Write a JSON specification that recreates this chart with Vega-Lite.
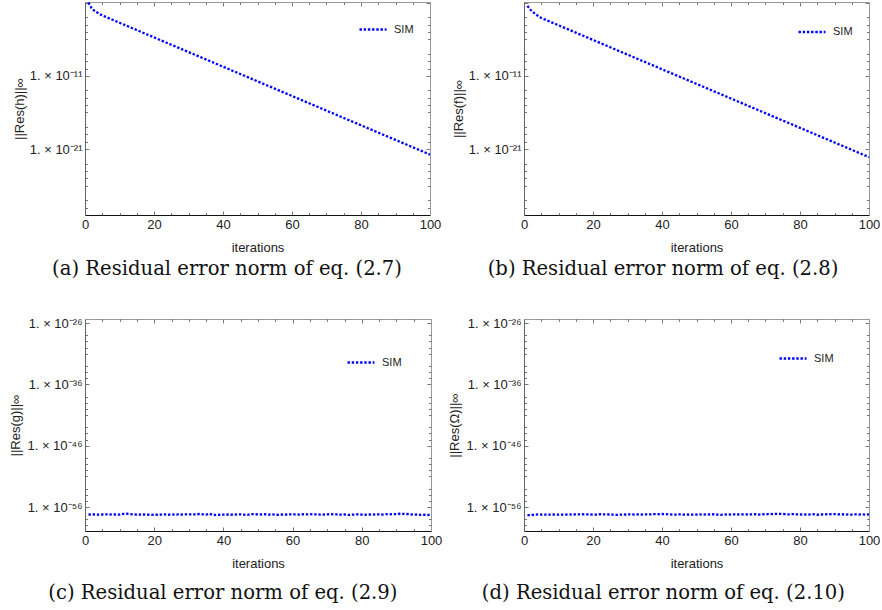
{
"$schema": "https://vega.github.io/schema/vega-lite/v6.json",
"padding": {"left": 9, "top": -1, "right": 0, "bottom": 0},
"background": "white",
"datasets": {
"a": [{"i":1,"r":1.0e-1},{"i":2,"r":1.41e-2},{"i":3,"r":6.31e-3},{"i":4,"r":3.16e-3},{"i":5,"r":1.778e-3},{"i":6,"r":1.122e-3},{"i":7,"r":7.079e-4},{"i":8,"r":4.467e-4},{"i":9,"r":2.818e-4},{"i":10,"r":1.778e-4},
{"i":11,"r":1.122e-4},{"i":12,"r":7.079e-5},{"i":13,"r":4.467e-5},{"i":14,"r":2.818e-5},{"i":15,"r":1.778e-5},{"i":16,"r":1.122e-5},{"i":17,"r":7.079e-6},{"i":18,"r":4.467e-6},{"i":19,"r":2.818e-6},{"i":20,"r":1.778e-6},
{"i":21,"r":1.122e-6},{"i":22,"r":7.079e-7},{"i":23,"r":4.467e-7},{"i":24,"r":2.818e-7},{"i":25,"r":1.778e-7},{"i":26,"r":1.122e-7},{"i":27,"r":7.079e-8},{"i":28,"r":4.467e-8},{"i":29,"r":2.818e-8},{"i":30,"r":1.778e-8},
{"i":31,"r":1.122e-8},{"i":32,"r":7.079e-9},{"i":33,"r":4.467e-9},{"i":34,"r":2.818e-9},{"i":35,"r":1.778e-9},{"i":36,"r":1.122e-9},{"i":37,"r":7.079e-10},{"i":38,"r":4.467e-10},{"i":39,"r":2.818e-10},{"i":40,"r":1.778e-10},
{"i":41,"r":1.122e-10},{"i":42,"r":7.079e-11},{"i":43,"r":4.467e-11},{"i":44,"r":2.818e-11},{"i":45,"r":1.778e-11},{"i":46,"r":1.122e-11},{"i":47,"r":7.079e-12},{"i":48,"r":4.467e-12},{"i":49,"r":2.818e-12},{"i":50,"r":1.778e-12},
{"i":51,"r":1.122e-12},{"i":52,"r":7.079e-13},{"i":53,"r":4.467e-13},{"i":54,"r":2.818e-13},{"i":55,"r":1.778e-13},{"i":56,"r":1.122e-13},{"i":57,"r":7.079e-14},{"i":58,"r":4.467e-14},{"i":59,"r":2.818e-14},{"i":60,"r":1.778e-14},
{"i":61,"r":1.122e-14},{"i":62,"r":7.079e-15},{"i":63,"r":4.467e-15},{"i":64,"r":2.818e-15},{"i":65,"r":1.778e-15},{"i":66,"r":1.122e-15},{"i":67,"r":7.079e-16},{"i":68,"r":4.467e-16},{"i":69,"r":2.818e-16},{"i":70,"r":1.778e-16},
{"i":71,"r":1.122e-16},{"i":72,"r":7.079e-17},{"i":73,"r":4.467e-17},{"i":74,"r":2.818e-17},{"i":75,"r":1.778e-17},{"i":76,"r":1.122e-17},{"i":77,"r":7.079e-18},{"i":78,"r":4.467e-18},{"i":79,"r":2.818e-18},{"i":80,"r":1.778e-18},
{"i":81,"r":1.122e-18},{"i":82,"r":7.079e-19},{"i":83,"r":4.467e-19},{"i":84,"r":2.818e-19},{"i":85,"r":1.778e-19},{"i":86,"r":1.122e-19},{"i":87,"r":7.079e-20},{"i":88,"r":4.467e-20},{"i":89,"r":2.818e-20},{"i":90,"r":1.778e-20},
{"i":91,"r":1.122e-20},{"i":92,"r":7.079e-21},{"i":93,"r":4.467e-21},{"i":94,"r":2.818e-21},{"i":95,"r":1.778e-21},{"i":96,"r":1.122e-21},{"i":97,"r":7.079e-22},{"i":98,"r":4.467e-22},{"i":99,"r":2.818e-22},{"i":100,"r":1.778e-22}],
"b": [{"i":1,"r":3.548e-2},{"i":2,"r":8.913e-3},{"i":3,"r":3.548e-3},{"i":4,"r":1.585e-3},{"i":5,"r":7.943e-4},{"i":6,"r":5.012e-4},{"i":7,"r":3.162e-4},{"i":8,"r":1.995e-4},{"i":9,"r":1.259e-4},{"i":10,"r":7.943e-5},
{"i":11,"r":5.012e-5},{"i":12,"r":3.162e-5},{"i":13,"r":1.995e-5},{"i":14,"r":1.259e-5},{"i":15,"r":7.943e-6},{"i":16,"r":5.012e-6},{"i":17,"r":3.162e-6},{"i":18,"r":1.995e-6},{"i":19,"r":1.259e-6},{"i":20,"r":7.943e-7},
{"i":21,"r":5.012e-7},{"i":22,"r":3.162e-7},{"i":23,"r":1.995e-7},{"i":24,"r":1.259e-7},{"i":25,"r":7.943e-8},{"i":26,"r":5.012e-8},{"i":27,"r":3.162e-8},{"i":28,"r":1.995e-8},{"i":29,"r":1.259e-8},{"i":30,"r":7.943e-9},
{"i":31,"r":5.012e-9},{"i":32,"r":3.162e-9},{"i":33,"r":1.995e-9},{"i":34,"r":1.259e-9},{"i":35,"r":7.943e-10},{"i":36,"r":5.012e-10},{"i":37,"r":3.162e-10},{"i":38,"r":1.995e-10},{"i":39,"r":1.259e-10},{"i":40,"r":7.943e-11},
{"i":41,"r":5.012e-11},{"i":42,"r":3.162e-11},{"i":43,"r":1.995e-11},{"i":44,"r":1.259e-11},{"i":45,"r":7.943e-12},{"i":46,"r":5.012e-12},{"i":47,"r":3.162e-12},{"i":48,"r":1.995e-12},{"i":49,"r":1.259e-12},{"i":50,"r":7.943e-13},
{"i":51,"r":5.012e-13},{"i":52,"r":3.162e-13},{"i":53,"r":1.995e-13},{"i":54,"r":1.259e-13},{"i":55,"r":7.943e-14},{"i":56,"r":5.012e-14},{"i":57,"r":3.162e-14},{"i":58,"r":1.995e-14},{"i":59,"r":1.259e-14},{"i":60,"r":7.943e-15},
{"i":61,"r":5.012e-15},{"i":62,"r":3.162e-15},{"i":63,"r":1.995e-15},{"i":64,"r":1.259e-15},{"i":65,"r":7.943e-16},{"i":66,"r":5.012e-16},{"i":67,"r":3.162e-16},{"i":68,"r":1.995e-16},{"i":69,"r":1.259e-16},{"i":70,"r":7.943e-17},
{"i":71,"r":5.012e-17},{"i":72,"r":3.162e-17},{"i":73,"r":1.995e-17},{"i":74,"r":1.259e-17},{"i":75,"r":7.943e-18},{"i":76,"r":5.012e-18},{"i":77,"r":3.162e-18},{"i":78,"r":1.995e-18},{"i":79,"r":1.259e-18},{"i":80,"r":7.943e-19},
{"i":81,"r":5.012e-19},{"i":82,"r":3.162e-19},{"i":83,"r":1.995e-19},{"i":84,"r":1.259e-19},{"i":85,"r":7.943e-20},{"i":86,"r":5.012e-20},{"i":87,"r":3.162e-20},{"i":88,"r":1.995e-20},{"i":89,"r":1.259e-20},{"i":90,"r":7.943e-21},
{"i":91,"r":5.012e-21},{"i":92,"r":3.162e-21},{"i":93,"r":1.995e-21},{"i":94,"r":1.259e-21},{"i":95,"r":7.943e-22},{"i":96,"r":5.012e-22},{"i":97,"r":3.162e-22},{"i":98,"r":1.995e-22},{"i":99,"r":1.259e-22},{"i":100,"r":7.943e-23}],
"c": [{"i":1,"r":6.0e-58},{"i":2,"r":6.3e-58},{"i":3,"r":6.1e-58},{"i":4,"r":5.8e-58},{"i":5,"r":6.2e-58},{"i":6,"r":6.5e-58},{"i":7,"r":6.0e-58},{"i":8,"r":6.4e-58},{"i":9,"r":6.1e-58},{"i":10,"r":5.7e-58},
{"i":11,"r":7.6e-58},{"i":12,"r":8.3e-58},{"i":13,"r":7.2e-58},{"i":14,"r":6.5e-58},{"i":15,"r":5.6e-58},{"i":16,"r":5.9e-58},{"i":17,"r":6.2e-58},{"i":18,"r":5.8e-58},{"i":19,"r":5.5e-58},{"i":20,"r":5.9e-58},
{"i":21,"r":5.6e-58},{"i":22,"r":6.0e-58},{"i":23,"r":6.3e-58},{"i":24,"r":5.4e-58},{"i":25,"r":6.6e-58},{"i":26,"r":5.9e-58},{"i":27,"r":6.4e-58},{"i":28,"r":6.1e-58},{"i":29,"r":6.5e-58},{"i":30,"r":6.2e-58},
{"i":31,"r":6.8e-58},{"i":32,"r":6.3e-58},{"i":33,"r":7.4e-58},{"i":34,"r":6.6e-58},{"i":35,"r":5.8e-58},{"i":36,"r":8.1e-58},{"i":37,"r":5.0e-58},{"i":38,"r":5.3e-58},{"i":39,"r":5.6e-58},{"i":40,"r":5.9e-58},
{"i":41,"r":6.1e-58},{"i":42,"r":5.5e-58},{"i":43,"r":6.4e-58},{"i":44,"r":6.0e-58},{"i":45,"r":6.6e-58},{"i":46,"r":5.7e-58},{"i":47,"r":5.2e-58},{"i":48,"r":7.2e-58},{"i":49,"r":6.9e-58},{"i":50,"r":6.6e-58},
{"i":51,"r":6.2e-58},{"i":52,"r":6.8e-58},{"i":53,"r":6.0e-58},{"i":54,"r":6.3e-58},{"i":55,"r":5.7e-58},{"i":56,"r":5.4e-58},{"i":57,"r":6.1e-58},{"i":58,"r":5.9e-58},{"i":59,"r":6.4e-58},{"i":60,"r":6.2e-58},
{"i":61,"r":6.6e-58},{"i":62,"r":6.0e-58},{"i":63,"r":6.8e-58},{"i":64,"r":6.4e-58},{"i":65,"r":6.9e-58},{"i":66,"r":6.3e-58},{"i":67,"r":6.7e-58},{"i":68,"r":5.8e-58},{"i":69,"r":6.1e-58},{"i":70,"r":6.5e-58},
{"i":71,"r":6.9e-58},{"i":72,"r":6.2e-58},{"i":73,"r":6.6e-58},{"i":74,"r":5.7e-58},{"i":75,"r":6.3e-58},{"i":76,"r":5.2e-58},{"i":77,"r":5.6e-58},{"i":78,"r":6.1e-58},{"i":79,"r":6.5e-58},{"i":80,"r":5.9e-58},
{"i":81,"r":5.6e-58},{"i":82,"r":6.2e-58},{"i":83,"r":5.8e-58},{"i":84,"r":6.3e-58},{"i":85,"r":6.5e-58},{"i":86,"r":6.0e-58},{"i":87,"r":7.0e-58},{"i":88,"r":6.4e-58},{"i":89,"r":7.3e-58},{"i":90,"r":6.8e-58},
{"i":91,"r":8.2e-58},{"i":92,"r":7.9e-58},{"i":93,"r":7.4e-58},{"i":94,"r":6.6e-58},{"i":95,"r":5.9e-58},{"i":96,"r":6.2e-58},{"i":97,"r":5.4e-58},{"i":98,"r":5.6e-58},{"i":99,"r":5.0e-58},{"i":100,"r":6.6e-58}],
"d": [{"i":1,"r":5.0e-58},{"i":2,"r":4.6e-58},{"i":3,"r":5.9e-58},{"i":4,"r":6.3e-58},{"i":5,"r":6.1e-58},{"i":6,"r":6.0e-58},{"i":7,"r":5.8e-58},{"i":8,"r":6.2e-58},{"i":9,"r":6.0e-58},{"i":10,"r":5.7e-58},
{"i":11,"r":6.1e-58},{"i":12,"r":5.9e-58},{"i":13,"r":6.3e-58},{"i":14,"r":6.0e-58},{"i":15,"r":6.5e-58},{"i":16,"r":6.4e-58},{"i":17,"r":6.8e-58},{"i":18,"r":6.6e-58},{"i":19,"r":6.2e-58},{"i":20,"r":5.9e-58},
{"i":21,"r":6.1e-58},{"i":22,"r":6.9e-58},{"i":23,"r":6.6e-58},{"i":24,"r":6.3e-58},{"i":25,"r":6.1e-58},{"i":26,"r":5.7e-58},{"i":27,"r":5.4e-58},{"i":28,"r":6.0e-58},{"i":29,"r":5.8e-58},{"i":30,"r":6.4e-58},
{"i":31,"r":6.7e-58},{"i":32,"r":6.0e-58},{"i":33,"r":6.3e-58},{"i":34,"r":6.1e-58},{"i":35,"r":6.5e-58},{"i":36,"r":6.2e-58},{"i":37,"r":6.6e-58},{"i":38,"r":7.2e-58},{"i":39,"r":6.8e-58},{"i":40,"r":7.4e-58},
{"i":41,"r":6.9e-58},{"i":42,"r":6.5e-58},{"i":43,"r":6.1e-58},{"i":44,"r":5.8e-58},{"i":45,"r":6.4e-58},{"i":46,"r":6.0e-58},{"i":47,"r":5.6e-58},{"i":48,"r":6.2e-58},{"i":49,"r":5.9e-58},{"i":50,"r":6.1e-58},
{"i":51,"r":6.3e-58},{"i":52,"r":5.8e-58},{"i":53,"r":6.5e-58},{"i":54,"r":6.2e-58},{"i":55,"r":6.7e-58},{"i":56,"r":6.0e-58},{"i":57,"r":5.5e-58},{"i":58,"r":5.9e-58},{"i":59,"r":6.3e-58},{"i":60,"r":6.1e-58},
{"i":61,"r":6.6e-58},{"i":62,"r":6.2e-58},{"i":63,"r":6.4e-58},{"i":64,"r":6.8e-58},{"i":65,"r":6.1e-58},{"i":66,"r":6.5e-58},{"i":67,"r":6.9e-58},{"i":68,"r":6.0e-58},{"i":69,"r":7.2e-58},{"i":70,"r":6.3e-58},
{"i":71,"r":7.8e-58},{"i":72,"r":7.3e-58},{"i":73,"r":7.6e-58},{"i":74,"r":7.9e-58},{"i":75,"r":7.5e-58},{"i":76,"r":6.8e-58},{"i":77,"r":6.4e-58},{"i":78,"r":7.3e-58},{"i":79,"r":6.6e-58},{"i":80,"r":6.2e-58},
{"i":81,"r":6.8e-58},{"i":82,"r":5.8e-58},{"i":83,"r":6.3e-58},{"i":84,"r":6.9e-58},{"i":85,"r":5.6e-58},{"i":86,"r":6.1e-58},{"i":87,"r":6.5e-58},{"i":88,"r":7.0e-58},{"i":89,"r":6.8e-58},{"i":90,"r":7.1e-58},
{"i":91,"r":6.6e-58},{"i":92,"r":6.9e-58},{"i":93,"r":6.0e-58},{"i":94,"r":6.3e-58},{"i":95,"r":5.9e-58},{"i":96,"r":6.4e-58},{"i":97,"r":6.1e-58},{"i":98,"r":6.3e-58},{"i":99,"r":6.0e-58},{"i":100,"r":6.4e-58}]
},
"columns": 2,
"spacing": {"row": 38, "column": 6},
"resolve": {"legend": {"stroke": "independent"}},
"concat": [
{
"width": 345, "height": 213,
"data": {"name": "a"},
"title": {"text": "(a) Residual error norm of eq. (2.7)", "orient": "bottom", "frame": "bounds", "anchor": "middle", "dx": 0, "offset": 6},
"resolve": {"axis": {"x": "independent", "y": "independent"}},
"layer": [
{"mark": {"type": "line", "strokeDash": [2.4, 1.8], "strokeWidth": 2.3, "clip": true},
 "encoding": {
  "x": {"field": "i", "type": "quantitative", "scale": {"domain": [0, 100], "nice": false, "zero": false}, "axis": {"orient": "bottom", "values": [0,20,40,60,80,100], "ticks": false, "title": "iterations", "domainColor": "#111"}},
  "y": {"field": "r", "type": "quantitative", "scale": {"type": "log", "domain": [1e-30, 0.12], "nice": false}, "axis": {"orient": "left", "values": [1e-11, 1e-21], "ticks": false, "title": "||Res(h)||∞", "titlePadding": 3, "domainColor": "#666", "labelExpr": "datum.value > 1e-16 ? '1. × 10⁻¹¹' : '1. × 10⁻²¹'"}},
  "stroke": {"datum": "SIM", "type": "nominal", "scale": {"range": ["#0000ff"]}, "legend": {"orient": "none", "legendX": 273, "legendY": 12.5}}
 }},
{"mark": {"type": "point", "opacity": 0},
 "encoding": {
  "x": {"field": "i", "type": "quantitative", "scale": {"domain": [0, 100], "nice": false, "zero": false}, "axis": {"orient": "bottom", "values": [0,20,40,60,80,100], "tickSize": -4, "labels": false, "domain": false, "title": null}},
  "y": {"field": "r", "type": "quantitative", "scale": {"type": "log", "domain": [1e-30, 0.12], "nice": false}, "axis": {"orient": "left", "values": [1e-1, 1e-11, 1e-21], "tickSize": -4, "labels": false, "domain": false, "title": null}}
 }},
{"mark": {"type": "point", "opacity": 0},
 "encoding": {
  "x": {"field": "i", "type": "quantitative", "scale": {"domain": [0, 100], "nice": false, "zero": false}, "axis": {"orient": "bottom", "values": [5,10,15,25,30,35,45,50,55,65,70,75,85,90,95], "tickSize": -2.5, "labels": false, "domain": false, "title": null}},
  "y": {"field": "r", "type": "quantitative", "scale": {"type": "log", "domain": [1e-30, 0.12], "nice": false}, "axis": {"orient": "left", "values": [1e-3,1e-4,1e-5,1e-6,1e-8,1e-9,1e-10,1e-13,1e-14,1e-15,1e-16,1e-18,1e-19,1e-20,1e-23,1e-24,1e-25,1e-26,1e-28,1e-29], "tickSize": -2.5, "labels": false, "domain": false, "title": null}}
 }},
{"mark": {"type": "point", "opacity": 0},
 "encoding": {
  "x": {"field": "i", "type": "quantitative", "scale": {"domain": [0, 100], "nice": false, "zero": false}, "axis": {"orient": "top", "values": [0,20,40,60,80,100], "tickSize": -4, "labels": false, "domainColor": "#999", "title": null}},
  "y": {"field": "r", "type": "quantitative", "scale": {"type": "log", "domain": [1e-30, 0.12], "nice": false}, "axis": {"orient": "right", "values": [1e-1, 1e-11, 1e-21], "tickSize": -4, "labels": false, "domainColor": "#999", "title": null}}
 }},
{"mark": {"type": "point", "opacity": 0},
 "encoding": {
  "x": {"field": "i", "type": "quantitative", "scale": {"domain": [0, 100], "nice": false, "zero": false}, "axis": {"orient": "top", "values": [5,10,15,25,30,35,45,50,55,65,70,75,85,90,95], "tickSize": -2.5, "labels": false, "domain": false, "title": null}},
  "y": {"field": "r", "type": "quantitative", "scale": {"type": "log", "domain": [1e-30, 0.12], "nice": false}, "axis": {"orient": "right", "values": [1e-3,1e-4,1e-5,1e-6,1e-8,1e-9,1e-10,1e-13,1e-14,1e-15,1e-16,1e-18,1e-19,1e-20,1e-23,1e-24,1e-25,1e-26,1e-28,1e-29], "tickSize": -2.5, "labels": false, "domain": false, "title": null}}
 }}
]
},
{
"width": 345, "height": 213,
"data": {"name": "b"},
"title": {"text": "(b) Residual error norm of eq. (2.8)", "orient": "bottom", "frame": "bounds", "anchor": "middle", "dx": -3, "offset": 6},
"resolve": {"axis": {"x": "independent", "y": "independent"}},
"layer": [
{"mark": {"type": "line", "strokeDash": [2.4, 1.8], "strokeWidth": 2.3, "clip": true},
 "encoding": {
  "x": {"field": "i", "type": "quantitative", "scale": {"domain": [0, 100], "nice": false, "zero": false}, "axis": {"orient": "bottom", "values": [0,20,40,60,80,100], "ticks": false, "title": "iterations", "domainColor": "#111"}},
  "y": {"field": "r", "type": "quantitative", "scale": {"type": "log", "domain": [1e-30, 0.12], "nice": false}, "axis": {"orient": "left", "values": [1e-11, 1e-21], "ticks": false, "title": "||Res(f)||∞", "titlePadding": 3, "domainColor": "#666", "labelExpr": "datum.value > 1e-16 ? '1. × 10⁻¹¹' : '1. × 10⁻²¹'"}},
  "stroke": {"datum": "SIM", "type": "nominal", "scale": {"range": ["#0000ff"]}, "legend": {"orient": "none", "legendX": 273, "legendY": 15}}
 }},
{"mark": {"type": "point", "opacity": 0},
 "encoding": {
  "x": {"field": "i", "type": "quantitative", "scale": {"domain": [0, 100], "nice": false, "zero": false}, "axis": {"orient": "bottom", "values": [0,20,40,60,80,100], "tickSize": -4, "labels": false, "domain": false, "title": null}},
  "y": {"field": "r", "type": "quantitative", "scale": {"type": "log", "domain": [1e-30, 0.12], "nice": false}, "axis": {"orient": "left", "values": [1e-1, 1e-11, 1e-21], "tickSize": -4, "labels": false, "domain": false, "title": null}}
 }},
{"mark": {"type": "point", "opacity": 0},
 "encoding": {
  "x": {"field": "i", "type": "quantitative", "scale": {"domain": [0, 100], "nice": false, "zero": false}, "axis": {"orient": "bottom", "values": [5,10,15,25,30,35,45,50,55,65,70,75,85,90,95], "tickSize": -2.5, "labels": false, "domain": false, "title": null}},
  "y": {"field": "r", "type": "quantitative", "scale": {"type": "log", "domain": [1e-30, 0.12], "nice": false}, "axis": {"orient": "left", "values": [1e-3,1e-4,1e-5,1e-6,1e-8,1e-9,1e-10,1e-13,1e-14,1e-15,1e-16,1e-18,1e-19,1e-20,1e-23,1e-24,1e-25,1e-26,1e-28,1e-29], "tickSize": -2.5, "labels": false, "domain": false, "title": null}}
 }},
{"mark": {"type": "point", "opacity": 0},
 "encoding": {
  "x": {"field": "i", "type": "quantitative", "scale": {"domain": [0, 100], "nice": false, "zero": false}, "axis": {"orient": "top", "values": [0,20,40,60,80,100], "tickSize": -4, "labels": false, "domainColor": "#999", "title": null}},
  "y": {"field": "r", "type": "quantitative", "scale": {"type": "log", "domain": [1e-30, 0.12], "nice": false}, "axis": {"orient": "right", "values": [1e-1, 1e-11, 1e-21], "tickSize": -4, "labels": false, "domainColor": "#999", "title": null}}
 }},
{"mark": {"type": "point", "opacity": 0},
 "encoding": {
  "x": {"field": "i", "type": "quantitative", "scale": {"domain": [0, 100], "nice": false, "zero": false}, "axis": {"orient": "top", "values": [5,10,15,25,30,35,45,50,55,65,70,75,85,90,95], "tickSize": -2.5, "labels": false, "domain": false, "title": null}},
  "y": {"field": "r", "type": "quantitative", "scale": {"type": "log", "domain": [1e-30, 0.12], "nice": false}, "axis": {"orient": "right", "values": [1e-3,1e-4,1e-5,1e-6,1e-8,1e-9,1e-10,1e-13,1e-14,1e-15,1e-16,1e-18,1e-19,1e-20,1e-23,1e-24,1e-25,1e-26,1e-28,1e-29], "tickSize": -2.5, "labels": false, "domain": false, "title": null}}
 }}
]
},
{
"width": 346, "height": 212,
"data": {"name": "c"},
"title": {"text": "(c) Residual error norm of eq. (2.9)", "orient": "bottom", "frame": "bounds", "anchor": "middle", "dx": -3, "offset": 14},
"resolve": {"axis": {"x": "independent", "y": "independent"}},
"layer": [
{"mark": {"type": "line", "strokeDash": [2.4, 1.8], "strokeWidth": 2.3, "clip": true},
 "encoding": {
  "x": {"field": "i", "type": "quantitative", "scale": {"domain": [0, 100], "nice": false, "zero": false}, "axis": {"orient": "bottom", "values": [0,20,40,60,80,100], "ticks": false, "title": "iterations", "domainColor": "#111"}},
  "y": {"field": "r", "type": "quantitative", "scale": {"type": "log", "domain": [1.26e-60, 4.5e-26], "nice": false}, "axis": {"orient": "left", "values": [1e-26, 1e-36, 1e-46, 1e-56], "ticks": false, "title": "||Res(g)||∞", "titlePadding": 4, "domainColor": "#666", "labelExpr": "datum.value > 1e-31 ? '1. × 10⁻²⁶' : datum.value > 1e-41 ? '1. × 10⁻³⁶' : datum.value > 1e-51 ? '1. × 10⁻⁴⁶' : '1. × 10⁻⁵⁶'"}},
  "stroke": {"datum": "SIM", "type": "nominal", "scale": {"range": ["#0000ff"]}, "legend": {"orient": "none", "legendX": 261, "legendY": 28.5}}
 }},
{"mark": {"type": "point", "opacity": 0},
 "encoding": {
  "x": {"field": "i", "type": "quantitative", "scale": {"domain": [0, 100], "nice": false, "zero": false}, "axis": {"orient": "bottom", "values": [0,20,40,60,80,100], "tickSize": -4, "labels": false, "domain": false, "title": null}},
  "y": {"field": "r", "type": "quantitative", "scale": {"type": "log", "domain": [1.26e-60, 4.5e-26], "nice": false}, "axis": {"orient": "left", "values": [1e-26, 1e-36, 1e-46, 1e-56], "tickSize": -4, "labels": false, "domain": false, "title": null}}
 }},
{"mark": {"type": "point", "opacity": 0},
 "encoding": {
  "x": {"field": "i", "type": "quantitative", "scale": {"domain": [0, 100], "nice": false, "zero": false}, "axis": {"orient": "bottom", "values": [5,10,15,25,30,35,45,50,55,65,70,75,85,90,95], "tickSize": -2.5, "labels": false, "domain": false, "title": null}},
  "y": {"field": "r", "type": "quantitative", "scale": {"type": "log", "domain": [1.26e-60, 4.5e-26], "nice": false}, "axis": {"orient": "left", "values": [1e-28,1e-29,1e-30,1e-31,1e-33,1e-34,1e-35,1e-38,1e-39,1e-40,1e-41,1e-43,1e-44,1e-45,1e-48,1e-49,1e-50,1e-51,1e-53,1e-54,1e-55,1e-58,1e-59], "tickSize": -2.5, "labels": false, "domain": false, "title": null}}
 }},
{"mark": {"type": "point", "opacity": 0},
 "encoding": {
  "x": {"field": "i", "type": "quantitative", "scale": {"domain": [0, 100], "nice": false, "zero": false}, "axis": {"orient": "top", "values": [0,20,40,60,80,100], "tickSize": -4, "labels": false, "domainColor": "#999", "title": null}},
  "y": {"field": "r", "type": "quantitative", "scale": {"type": "log", "domain": [1.26e-60, 4.5e-26], "nice": false}, "axis": {"orient": "right", "values": [1e-26, 1e-36, 1e-46, 1e-56], "tickSize": -4, "labels": false, "domainColor": "#999", "title": null}}
 }},
{"mark": {"type": "point", "opacity": 0},
 "encoding": {
  "x": {"field": "i", "type": "quantitative", "scale": {"domain": [0, 100], "nice": false, "zero": false}, "axis": {"orient": "top", "values": [5,10,15,25,30,35,45,50,55,65,70,75,85,90,95], "tickSize": -2.5, "labels": false, "domain": false, "title": null}},
  "y": {"field": "r", "type": "quantitative", "scale": {"type": "log", "domain": [1.26e-60, 4.5e-26], "nice": false}, "axis": {"orient": "right", "values": [1e-28,1e-29,1e-30,1e-31,1e-33,1e-34,1e-35,1e-38,1e-39,1e-40,1e-41,1e-43,1e-44,1e-45,1e-48,1e-49,1e-50,1e-51,1e-53,1e-54,1e-55,1e-58,1e-59], "tickSize": -2.5, "labels": false, "domain": false, "title": null}}
 }}
]
},
{
"width": 345, "height": 212,
"data": {"name": "d"},
"title": {"text": "(d) Residual error norm of eq. (2.10)", "orient": "bottom", "frame": "bounds", "anchor": "middle", "dx": -1, "offset": 14},
"resolve": {"axis": {"x": "independent", "y": "independent"}},
"layer": [
{"mark": {"type": "line", "strokeDash": [2.4, 1.8], "strokeWidth": 2.3, "clip": true},
 "encoding": {
  "x": {"field": "i", "type": "quantitative", "scale": {"domain": [0, 100], "nice": false, "zero": false}, "axis": {"orient": "bottom", "values": [0,20,40,60,80,100], "ticks": false, "title": "iterations", "domainColor": "#111"}},
  "y": {"field": "r", "type": "quantitative", "scale": {"type": "log", "domain": [1.26e-60, 4.5e-26], "nice": false}, "axis": {"orient": "left", "values": [1e-26, 1e-36, 1e-46, 1e-56], "ticks": false, "title": "||Res(Ω)||∞", "titlePadding": 4, "domainColor": "#666", "labelExpr": "datum.value > 1e-31 ? '1. × 10⁻²⁶' : datum.value > 1e-41 ? '1. × 10⁻³⁶' : datum.value > 1e-51 ? '1. × 10⁻⁴⁶' : '1. × 10⁻⁵⁶'"}},
  "stroke": {"datum": "SIM", "type": "nominal", "scale": {"range": ["#0000ff"]}, "legend": {"orient": "none", "legendX": 254, "legendY": 24.5}}
 }},
{"mark": {"type": "point", "opacity": 0},
 "encoding": {
  "x": {"field": "i", "type": "quantitative", "scale": {"domain": [0, 100], "nice": false, "zero": false}, "axis": {"orient": "bottom", "values": [0,20,40,60,80,100], "tickSize": -4, "labels": false, "domain": false, "title": null}},
  "y": {"field": "r", "type": "quantitative", "scale": {"type": "log", "domain": [1.26e-60, 4.5e-26], "nice": false}, "axis": {"orient": "left", "values": [1e-26, 1e-36, 1e-46, 1e-56], "tickSize": -4, "labels": false, "domain": false, "title": null}}
 }},
{"mark": {"type": "point", "opacity": 0},
 "encoding": {
  "x": {"field": "i", "type": "quantitative", "scale": {"domain": [0, 100], "nice": false, "zero": false}, "axis": {"orient": "bottom", "values": [5,10,15,25,30,35,45,50,55,65,70,75,85,90,95], "tickSize": -2.5, "labels": false, "domain": false, "title": null}},
  "y": {"field": "r", "type": "quantitative", "scale": {"type": "log", "domain": [1.26e-60, 4.5e-26], "nice": false}, "axis": {"orient": "left", "values": [1e-28,1e-29,1e-30,1e-31,1e-33,1e-34,1e-35,1e-38,1e-39,1e-40,1e-41,1e-43,1e-44,1e-45,1e-48,1e-49,1e-50,1e-51,1e-53,1e-54,1e-55,1e-58,1e-59], "tickSize": -2.5, "labels": false, "domain": false, "title": null}}
 }},
{"mark": {"type": "point", "opacity": 0},
 "encoding": {
  "x": {"field": "i", "type": "quantitative", "scale": {"domain": [0, 100], "nice": false, "zero": false}, "axis": {"orient": "top", "values": [0,20,40,60,80,100], "tickSize": -4, "labels": false, "domainColor": "#999", "title": null}},
  "y": {"field": "r", "type": "quantitative", "scale": {"type": "log", "domain": [1.26e-60, 4.5e-26], "nice": false}, "axis": {"orient": "right", "values": [1e-26, 1e-36, 1e-46, 1e-56], "tickSize": -4, "labels": false, "domainColor": "#999", "title": null}}
 }},
{"mark": {"type": "point", "opacity": 0},
 "encoding": {
  "x": {"field": "i", "type": "quantitative", "scale": {"domain": [0, 100], "nice": false, "zero": false}, "axis": {"orient": "top", "values": [5,10,15,25,30,35,45,50,55,65,70,75,85,90,95], "tickSize": -2.5, "labels": false, "domain": false, "title": null}},
  "y": {"field": "r", "type": "quantitative", "scale": {"type": "log", "domain": [1.26e-60, 4.5e-26], "nice": false}, "axis": {"orient": "right", "values": [1e-28,1e-29,1e-30,1e-31,1e-33,1e-34,1e-35,1e-38,1e-39,1e-40,1e-41,1e-43,1e-44,1e-45,1e-48,1e-49,1e-50,1e-51,1e-53,1e-54,1e-55,1e-58,1e-59], "tickSize": -2.5, "labels": false, "domain": false, "title": null}}
 }}
]
}
],
"config": {
  "view": {"stroke": null},
  "axis": {"grid": false, "labelFont": "Liberation Sans", "labelFontSize": 13, "labelColor": "#222", "labelPadding": 3, "labelFlush": false, "labelOverlap": false, "titleFont": "Liberation Sans", "titleFontSize": 13, "titleFontWeight": "normal", "titleColor": "#222", "tickColor": "#555", "tickWidth": 0.8, "domainWidth": 1},
  "axisX": {"titlePadding": 10},
  "legend": {"title": null, "symbolType": "stroke", "symbolSize": 729, "symbolStrokeWidth": 2.3, "symbolDash": [2.4, 1.8], "labelFont": "Liberation Sans", "labelFontSize": 11, "labelColor": "#222", "labelOffset": 6, "padding": 0},
  "title": {"font": "DejaVu Serif", "fontSize": 19.6, "fontWeight": "normal", "color": "#111"}
}
}
